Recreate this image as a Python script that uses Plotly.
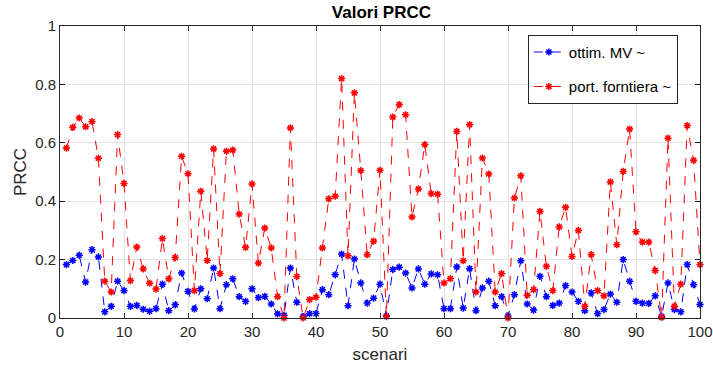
import plotly.graph_objects as go

scenari = list(range(1, 101))

ottim_mv = [
    0.183, 0.197, 0.215, 0.123, 0.234, 0.209, 0.021, 0.040, 0.126, 0.094,
    0.040, 0.043, 0.030, 0.023, 0.032, 0.116, 0.025, 0.045, 0.154, 0.091,
    0.031, 0.100, 0.066, 0.171, 0.032, 0.114, 0.134, 0.073, 0.057, 0.100,
    0.070, 0.074, 0.048, 0.014, 0.009, 0.171, 0.054, 0.005, 0.015, 0.015,
    0.097, 0.080, 0.148, 0.219, 0.042, 0.202, 0.120, 0.051, 0.068, 0.116,
    0.007, 0.166, 0.174, 0.154, 0.103, 0.168, 0.116, 0.151, 0.148, 0.032,
    0.032, 0.175, 0.034, 0.169, 0.025, 0.103, 0.126, 0.042, 0.073, 0.007,
    0.080, 0.196, 0.048, 0.027, 0.143, 0.073, 0.043, 0.051, 0.111, 0.089,
    0.057, 0.025, 0.086, 0.015, 0.029, 0.082, 0.054, 0.200, 0.126, 0.057,
    0.051, 0.050, 0.076, 0.005, 0.120, 0.029, 0.021, 0.183, 0.114, 0.046,
]

port_frontiera = [
    0.582, 0.653, 0.685, 0.655, 0.673, 0.547, 0.126, 0.089, 0.628, 0.461,
    0.128, 0.243, 0.168, 0.119, 0.099, 0.272, 0.134, 0.207, 0.554, 0.494,
    0.094, 0.434, 0.197, 0.579, 0.152, 0.571, 0.575, 0.356, 0.242, 0.459,
    0.188, 0.308, 0.240, 0.073, 0.000, 0.651, 0.142, 0.000, 0.063, 0.071,
    0.240, 0.408, 0.417, 0.820, 0.213, 0.771, 0.505, 0.217, 0.263, 0.506,
    0.005, 0.688, 0.731, 0.696, 0.346, 0.442, 0.594, 0.426, 0.424, 0.120,
    0.135, 0.639, 0.196, 0.662, 0.089, 0.548, 0.493, 0.089, 0.152, 0.000,
    0.411, 0.487, 0.078, 0.097, 0.365, 0.177, 0.094, 0.312, 0.379, 0.211,
    0.300, 0.040, 0.217, 0.094, 0.076, 0.466, 0.251, 0.502, 0.647, 0.295,
    0.260, 0.260, 0.163, 0.002, 0.616, 0.040, 0.116, 0.659, 0.540, 0.183,
]

x_ticks = list(range(0, 101, 10))
y_ticks = [0, 0.2, 0.4, 0.6, 0.8, 1]

FONT = "Liberation Sans, Arial, sans-serif"

fig = go.Figure()
fig.add_trace(go.Scatter(
    x=scenari, y=ottim_mv, mode="lines+markers", name="ottim. MV ~",
    legendgroup="a", cliponaxis=False,
    line=dict(color="rgb(0,0,255)", width=1, dash="dash"),
    marker=dict(symbol="asterisk-open", size=6, color="rgb(0,0,255)",
                line=dict(color="rgb(0,0,255)", width=1.5)),
))
fig.add_trace(go.Scatter(
    x=scenari, y=port_frontiera, mode="lines+markers", name="port. forntiera ~",
    legendgroup="b", cliponaxis=False,
    line=dict(color="rgb(255,0,0)", width=1, dash="dash"),
    marker=dict(symbol="asterisk-open", size=6, color="rgb(255,0,0)",
                line=dict(color="rgb(255,0,0)", width=1.5)),
))

axis_common = dict(
    showline=True, linecolor="#262626", linewidth=1, mirror="ticks",
    ticks="inside", ticklen=5, tickcolor="#262626",
    showgrid=True, gridcolor="#e3e3e3", gridwidth=1,
    zeroline=False, automargin=False,
    tickfont=dict(family=FONT, size=15, color="#262626"),
)

fig.update_layout(
    width=713, height=369,
    margin=dict(l=60, r=13, t=26, b=51),
    paper_bgcolor="white", plot_bgcolor="white",
    title=dict(text="<b>Valori PRCC</b>", x=0.535, xanchor="center", y=0.968, yanchor="middle",
               font=dict(family=FONT, size=17, color="black")),
    xaxis=dict(range=[0, 100], tickvals=x_ticks,
               title=dict(text="scenari", font=dict(family=FONT, size=17, color="#262626"), standoff=9),
               **axis_common),
    yaxis=dict(range=[0, 1], tickvals=y_ticks,
               title=dict(text="PRCC", font=dict(family=FONT, size=17, color="#262626"), standoff=4),
               **axis_common),
    legend=dict(x=0.731, y=0.97, xanchor="left", yanchor="top",
                bgcolor="white", bordercolor="#262626", borderwidth=1,
                font=dict(family=FONT, size=15, color="black"),
                tracegroupgap=12, itemwidth=30),
    showlegend=True,
)

fig.write_html("out.html")
